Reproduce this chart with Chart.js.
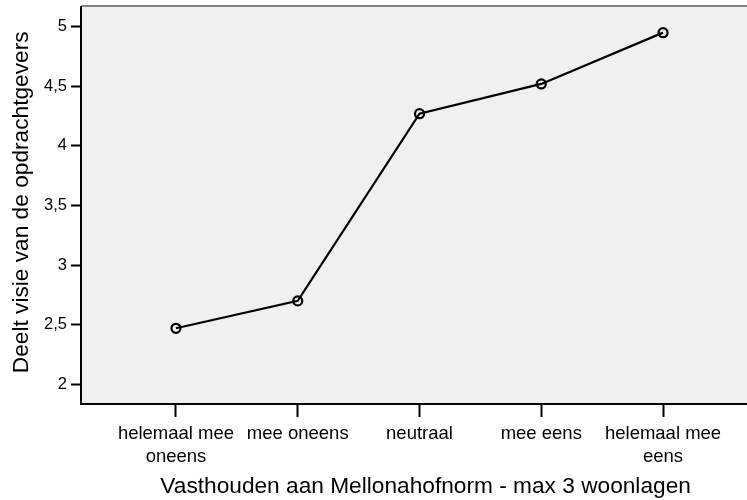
<!DOCTYPE html>
<html>
<head>
<meta charset="utf-8">
<script src="https://cdn.jsdelivr.net/npm/chart.js@4.4.0/dist/chart.umd.min.js"></script>
<style>
  html, body { margin: 0; padding: 0; background: #ffffff; overflow: hidden; width: 747px; height: 500px; }
  #wrap { width: 777px; height: 500px; position: relative; }
</style>
</head>
<body>
<div id="wrap"><canvas id="c" width="777" height="500"></canvas></div>
<script>
const categories = [['helemaal mee', 'oneens'], 'mee oneens', 'neutraal', 'mee eens', ['helemaal mee', 'eens']];
const meanValues = [2.47, 2.70, 4.27, 4.52, 4.95];
const yTickValues = [2, 2.5, 3, 3.5, 4, 4.5, 5];
const yTickLabels = ['2', '2,5', '3', '3,5', '4', '4,5', '5'];
const xTitle = 'Vasthouden aan Mellonahofnorm - max 3 woonlagen';
const yTitle = 'Deelt visie van de opdrachtgevers';

const FONT = '"Liberation Sans", Arial, sans-serif';

const plotBg = {
  id: 'plotBg',
  beforeDraw(chart) {
    const a = chart.chartArea, ctx = chart.ctx;
    ctx.save();
    ctx.fillStyle = '#f0f0f0';
    ctx.fillRect(a.left, a.top, a.right - a.left, a.bottom - a.top);
    ctx.strokeStyle = '#7f7f7f';
    ctx.lineWidth = 2;
    ctx.beginPath();
    ctx.moveTo(a.left, a.top - 1);
    ctx.lineTo(a.right, a.top - 1);
    ctx.stroke();
    ctx.restore();
  }
};

new Chart(document.getElementById('c'), {
  type: 'line',
  data: {
    datasets: [{
      data: meanValues.map((v, i) => ({ x: i, y: v })),
      borderColor: '#000000',
      borderWidth: 2.2,
      pointRadius: 4.5,
      pointBorderWidth: 2.3,
      pointBorderColor: '#000000',
      pointBackgroundColor: 'rgba(0,0,0,0)',
      fill: false,
      tension: 0
    }]
  },
  options: {
    responsive: false,
    animation: false,
    devicePixelRatio: 1,
    layout: { padding: { top: 7, left: 0, right: 0, bottom: 0 } },
    plugins: { legend: { display: false }, tooltip: { enabled: false } },
    scales: {
      x: {
        type: 'linear',
        position: 'bottom',
        min: -0.78,
        max: 4.88,
        afterBuildTicks(scale) { scale.ticks = categories.map((c, i) => ({ value: i })); },
        afterFit(scale) { scale.height = 96; scale.paddingLeft = 0; scale.paddingRight = 0; },
        grid: { drawOnChartArea: false, drawTicks: true, tickLength: 13, tickWidth: 2, tickColor: '#000000' },
        border: { display: true, color: '#000000', width: 2 },
        ticks: {
          autoSkip: false,
          maxRotation: 0,
          padding: 6,
          color: '#000000',
          font: { family: FONT, size: 18.5, lineHeight: 1.23 },
          callback: (v) => categories[v]
        },
        title: {
          display: true,
          text: xTitle,
          color: '#000000',
          font: { family: FONT, size: 22.7, lineHeight: 1.2 },
          padding: { top: 0, bottom: 0 }
        }
      },
      y: {
        type: 'linear',
        min: 1.835,
        max: 5.165,
        afterBuildTicks(scale) { scale.ticks = yTickValues.map(v => ({ value: v })); },
        afterFit(scale) { scale.width = 81; scale.paddingTop = 0; scale.paddingBottom = 0; },
        grid: { drawOnChartArea: false, drawTicks: true, tickLength: 10, tickWidth: 2, tickColor: '#000000' },
        border: { display: true, color: '#000000', width: 2 },
        ticks: {
          padding: 4,
          color: '#000000',
          font: { family: FONT, size: 16.5 },
          callback: (v) => yTickLabels[yTickValues.indexOf(v)]
        },
        title: {
          display: true,
          text: ' ' + yTitle,
          color: '#000000',
          font: { family: FONT, size: 22.7, lineHeight: 1.2 },
          padding: { top: 8, bottom: 0 }
        }
      }
    }
  },
  plugins: [plotBg]
});
</script>
</body>
</html>
